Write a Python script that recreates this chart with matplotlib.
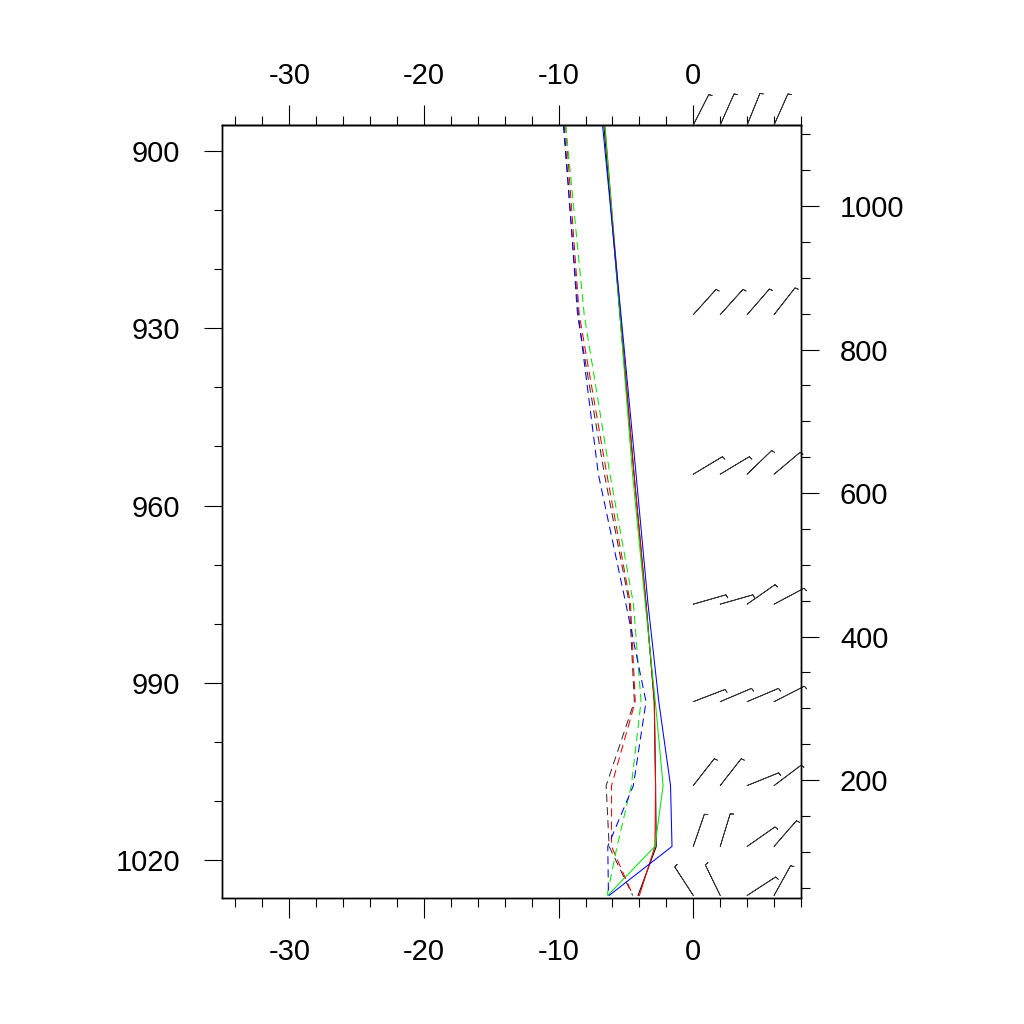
import matplotlib

matplotlib.use("Agg")
import matplotlib.pyplot as plt
from matplotlib.ticker import MultipleLocator
import numpy as np

# pressure levels (hPa) of the profile points
PRESSURE = [895.6, 927.7, 954.7, 976.7, 993.2, 1007.4, 1017.7, 1026.0]

# temperature profiles (solid)
T_BLACK = [-6.64, -5.45, -4.40, -3.50, -2.90, -2.80, -2.75, -4.10]
T_RED = [-6.57, -5.41, -4.40, -3.51, -2.89, -2.80, -2.85, -4.00]
T_GREEN = [-6.57, -5.45, -4.51, -3.56, -2.82, -2.24, -2.85, -6.35]
T_BLUE = [-6.74, -5.37, -4.25, -3.36, -2.56, -1.69, -1.58, -6.25]

# dew point profiles (dashed)
TD_BLACK = [-9.59, -8.60, -6.60, -4.74, -4.38, -6.47, -6.25, -4.50]
TD_RED = [-9.48, -8.47, -6.42, -4.66, -4.31, -6.07, -6.07, -4.48]
TD_GREEN = [-9.48, -8.10, -6.19, -4.44, -3.88, -4.60, -5.66, -6.40]
TD_BLUE = [-9.65, -8.54, -7.05, -5.00, -3.51, -4.45, -6.35, -6.30]

# wind barbs: columns at these x positions, one row per pressure level
BARB_X = [0, 2, 4, 6]
WIND_DIR = [
    [27, 24, 22, 24],
    [42, 42, 41, 38],
    [59, 59, 46, 50],
    [74, 74, 55, 62],
    [69, 67, 67, 63],
    [38, 38, 68, 53],
    [19, 17, 55, 41],
    [327, 334, 57, 29],
]
WIND_SPEED = [
    [10, 10, 10, 10],
    [10, 10, 10, 10],
    [10, 10, 10, 10],
    [10, 10, 10, 10],
    [10, 10, 10, 10],
    [10, 10, 10, 10],
    [10, 10, 10, 10],
    [10, 10, 10, 10],
]

plt.rcParams.update(
    {
        "font.family": ["Liberation Sans", "DejaVu Sans"],
        "font.size": 21,
        "lines.scale_dashes": False,
        "axes.linewidth": 1.0,
        "axes.unicode_minus": False,
    }
)

fig = plt.figure(figsize=(10.24, 10.24), dpi=100)
ax = fig.add_axes([222 / 1024, 126 / 1024, 579 / 1024, 773 / 1024])

lw = 0.75
dash = (5.8, 3.6)
green = "#00e600"
for vals, col in [(T_BLACK, "black"), (T_RED, "red"), (T_GREEN, green), (T_BLUE, "blue")]:
    ax.plot(vals, PRESSURE, color=col, lw=lw, zorder=3)
for vals, col in [(TD_BLACK, "#333333"), (TD_RED, "red"), (TD_GREEN, green), (TD_BLUE, "blue")]:
    ax.plot(vals, PRESSURE, color=col, lw=lw, dashes=dash, zorder=3)

# wind barbs
bx, by = np.meshgrid(BARB_X, PRESSURE)
wd = np.radians(np.array(WIND_DIR, dtype=float))
ws = np.array(WIND_SPEED, dtype=float)
u = -ws * np.sin(wd)
v = -ws * np.cos(wd)
ax.barbs(
    bx, by, u, v,
    length=7,
    sizes=dict(height=0.1, width=0.05, spacing=0.125),
    color="#333333",
    linewidth=0.6,
    clip_on=False,
    zorder=4,
)

ax.set_xlim(-35, 8)
ax.set_ylim(1026.43, 895.6)
ax.xaxis.set_major_locator(MultipleLocator(10))
ax.xaxis.set_minor_locator(MultipleLocator(2))
ax.yaxis.set_major_locator(MultipleLocator(30))
ax.yaxis.set_minor_locator(MultipleLocator(10))
ax.tick_params(axis="x", which="both", top=False, bottom=True, direction="out", width=0.8)
ax.tick_params(axis="x", which="major", length=14.5, pad=14)
ax.tick_params(axis="x", which="minor", length=6.5)
ax.tick_params(axis="y", which="both", left=True, right=False, direction="out", width=0.8)
ax.tick_params(axis="y", which="major", length=13, pad=17)
ax.tick_params(axis="y", which="minor", length=6)

# same temperature scale along the top
top = ax.secondary_xaxis("top")
top.xaxis.set_major_locator(MultipleLocator(10))
top.xaxis.set_minor_locator(MultipleLocator(2))
top.tick_params(axis="x", which="both", direction="out", width=0.8)
top.tick_params(axis="x", which="major", length=14.5, pad=10.5)
top.tick_params(axis="x", which="minor", length=6.5)
top.spines["top"].set_linewidth(1.0)

# height axis on the right
ax2 = ax.twinx()
ax2.set_ylim(35.5, 1113)
ax2.yaxis.set_major_locator(MultipleLocator(200))
ax2.yaxis.set_minor_locator(MultipleLocator(50))
ax2.tick_params(axis="y", which="both", direction="out", width=0.8)
ax2.tick_params(axis="y", which="major", length=13, pad=15)
ax2.tick_params(axis="y", which="minor", length=6.5)

fig.savefig("out.png", dpi=100, facecolor="white")
